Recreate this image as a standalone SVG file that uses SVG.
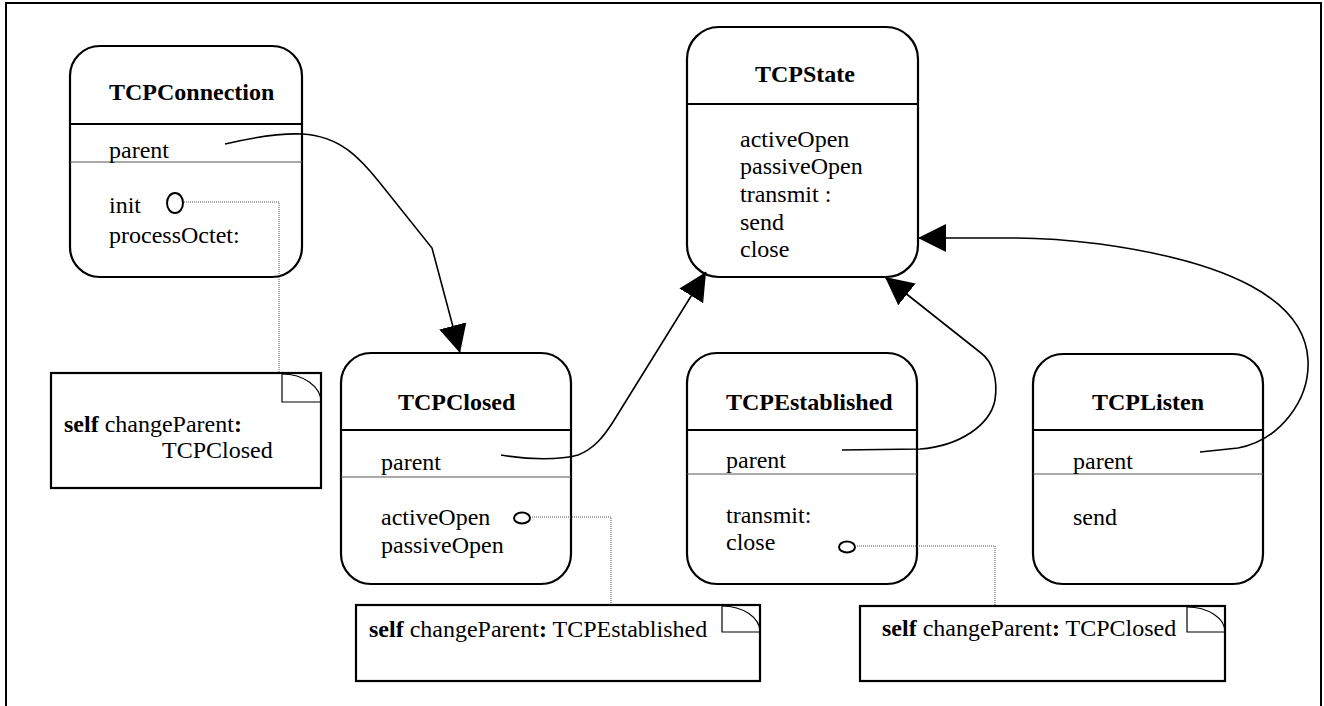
<svg xmlns="http://www.w3.org/2000/svg" width="1324" height="706" viewBox="0 0 1324 706">
<style>
text{font-family:"Liberation Serif","Times New Roman",serif;font-size:24px;fill:#000}
.t{font-weight:bold}
.b{font-weight:bold}
.box{fill:#fff;stroke:#000;stroke-width:2.2}
.hd{stroke:#000;stroke-width:2.2}
.thin{stroke:#555;stroke-width:1}
.dot{fill:none;stroke:#555;stroke-width:1;stroke-dasharray:1 1}
.ov{fill:none;stroke:#000;stroke-width:2}
.note{fill:#fff;stroke:#000;stroke-width:2.2}
.ear{fill:none;stroke:#000;stroke-width:1.2}
.con{fill:none;stroke:#000;stroke-width:1.6}
</style>
<defs>
<marker id="arr" viewBox="0 0 28 28" refX="28" refY="14" markerWidth="28" markerHeight="28" markerUnits="userSpaceOnUse" orient="auto">
<path d="M0,0 L28,14 L0,28 z" fill="#000"/>
</marker>
</defs>
<rect width="1324" height="706" fill="#fff"/>
<path d="M6,706 V3 H1321 V706" fill="none" stroke="#000" stroke-width="2"/>

<g id="TCPConnection">
<rect class="box" x="70" y="46" width="232" height="231" rx="30"/>
<line class="hd" x1="70" y1="124" x2="302" y2="124"/>
<line class="thin" x1="70" y1="162" x2="302" y2="162"/>
<text class="t" x="109" y="100">TCPConnection</text>
<text x="109" y="158">parent</text>
<text x="109" y="213">init</text>
<text x="109" y="243">processOctet:</text>
<ellipse class="ov" cx="175" cy="203" rx="8" ry="10"/>
</g>

<g id="TCPState">
<rect class="box" x="687" y="27" width="231" height="250" rx="32"/>
<line class="hd" x1="687" y1="104" x2="918" y2="104"/>
<text class="t" x="755" y="82">TCPState</text>
<text x="740" y="147">activeOpen</text>
<text x="740" y="174">passiveOpen</text>
<text x="740" y="202">transmit :</text>
<text x="740" y="230">send</text>
<text x="740" y="257">close</text>
</g>

<g id="TCPClosed">
<rect class="box" x="341" y="353" width="230" height="231" rx="30"/>
<line class="hd" x1="341" y1="430" x2="571" y2="430"/>
<line class="thin" x1="341" y1="477" x2="571" y2="477"/>
<text class="t" x="398" y="410">TCPClosed</text>
<text x="381" y="470">parent</text>
<text x="381" y="525">activeOpen</text>
<text x="381" y="553">passiveOpen</text>
<ellipse class="ov" cx="522" cy="518" rx="8" ry="5.5"/>
</g>

<g id="TCPEstablished">
<rect class="box" x="687" y="353" width="230" height="231" rx="30"/>
<line class="hd" x1="687" y1="430" x2="917" y2="430"/>
<line class="thin" x1="687" y1="474" x2="917" y2="474"/>
<text class="t" x="726" y="410">TCPEstablished</text>
<text x="726" y="468">parent</text>
<text x="726" y="523">transmit:</text>
<text x="726" y="550">close</text>
<ellipse class="ov" cx="847" cy="547" rx="8" ry="5.5"/>
</g>

<g id="TCPListen">
<rect class="box" x="1033" y="354" width="230" height="230" rx="30"/>
<line class="hd" x1="1033" y1="430" x2="1263" y2="430"/>
<line class="thin" x1="1033" y1="474" x2="1263" y2="474"/>
<text class="t" x="1092" y="410">TCPListen</text>
<text x="1073" y="469">parent</text>
<text x="1073" y="525">send</text>
</g>

<g id="dotted">
<path class="dot" d="M184,202 H279 V373"/>
<path class="dot" d="M530,517 H611 V605"/>
<path class="dot" d="M855,546 H995 V606"/>
</g>

<g id="note1">
<rect class="note" x="51" y="373" width="270" height="115"/>
<path class="ear" d="M282,373 V402 H321"/>
<path class="ear" d="M282,374 A39 28 0 0 1 321 402"/>
<text x="64" y="432"><tspan class="b">self</tspan> changeParent<tspan class="b">:</tspan></text>
<text x="162" y="458">TCPClosed</text>
</g>

<g id="note2">
<rect class="note" x="356" y="605" width="404" height="76"/>
<path class="ear" d="M722,605 V632 H760"/>
<path class="ear" d="M722,606 A38 26 0 0 1 760 632"/>
<text x="369" y="637"><tspan class="b">self</tspan> changeParent<tspan class="b">:</tspan> TCPEstablished</text>
</g>

<g id="note3">
<rect class="note" x="860" y="606" width="365" height="75"/>
<path class="ear" d="M1187,606 V632 H1225"/>
<path class="ear" d="M1187,607 A38 25 0 0 1 1225 632"/>
<text x="882" y="636"><tspan class="b">self</tspan> changeParent<tspan class="b">:</tspan> TCPClosed</text>
</g>

<g id="connectors">
<path class="con" marker-end="url(#arr)" d="M225,144 C255,137 280,133 302,134 C340,136 360,158 380,183 L432,248 L460,353"/>
<path class="con" marker-end="url(#arr)" d="M501,455 C530,460 560,460 578,455 C594,449 604,436 613,422 L706,272"/>
<path class="con" marker-end="url(#arr)" d="M842,450 L920,449 C960,446 990,425 995,400 C998,380 993,362 981,353 L885,277"/>
<path class="con" marker-end="url(#arr)" d="M1200,452 L1238,448 C1280,440 1310,400 1308,360 C1305,300 1230,262 1100,244 C1060,239 1030,238 1013,238 L918,238"/>
</g>
</svg>
